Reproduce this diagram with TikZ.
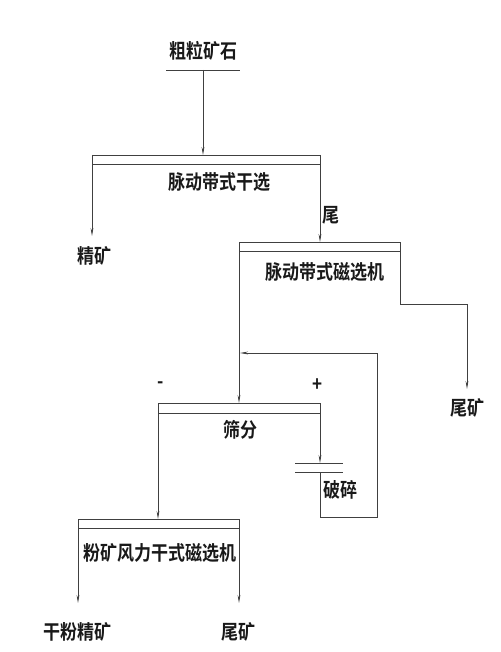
\documentclass[tikz,border=0pt]{standalone}
\usepackage{fontspec}
\newfontfamily\cjk[FakeStretch=0.85]{Noto Sans CJK SC Bold}
\usetikzlibrary{arrows.meta}
\tikzset{
  flow/.style={draw=black!75, line width=0.7pt},
  go/.style={flow, -{Stealth[length=8pt,width=2.8pt]}},
  lbl/.style={font=\cjk\fontsize{20}{20}\selectfont, inner sep=0pt, text=black!90}
}
\begin{document}
\begin{tikzpicture}[x=1pt,y=-1pt]
\useasboundingbox (0,0) rectangle (500,652);
% feed
\node[lbl] (feed) at (203,51) {粗粒矿石};
\coordinate (fa) at (166,70); \coordinate (fb) at (240,70); \coordinate (fo) at (203,70);
\draw[flow] (fa)--(fb);
% pulsating belt dry separation
\coordinate (s1l) at (92,155); \coordinate (s1r) at (320,155); \coordinate (s1in) at (203,155);
\draw[flow] (s1l) rectangle (320,164);
\node[lbl] (s1) at (219,182) {脉动带式干选};
\draw[go] (fo)--(s1in);
\coordinate (c1) at (92,236); \node[lbl] (conc1) at (94,256) {精矿};
\draw[go] (s1l)--(c1);
% magnetic separator
\coordinate (s2l) at (239,242); \coordinate (s2r) at (400,242); \coordinate (s2in) at (320,242);
\draw[flow] (s2l) rectangle (400,251);
\node[lbl] (s2) at (325,272) {脉动带式磁选机};
\node[lbl] (tail1) at (331,215) {尾};
\draw[go] (s1r)--(s2in);
\coordinate (t2) at (467,389); \node[lbl] (tail2) at (467,408) {尾矿};
\draw[go] (s2r)--(400,304)-|(t2);
% screening
\coordinate (s3l) at (158,403); \coordinate (s3r) at (320,403); \coordinate (s3in) at (239,403);
\draw[flow] (s3l) rectangle (320,413);
\node[lbl] (s3) at (240,430) {筛分};
\node[lbl] (minus) at (161,385) {-};
\node[lbl] (plus) at (318,385) {+};
\draw[go] (s2l)--(s3in);
% crushing
\coordinate (cr1) at (320,463); \coordinate (cr2) at (320,472);
\draw[flow] (295,463)--(343,463) (295,472)--(343,472);
\node[lbl] (cr) at (340,490) {破碎};
\draw[go] (s3r)--(cr1);
\coordinate (back) at (240,353);
\draw[flow] (cr2)--(320,517)-|(377,353);
\draw[go] (377,353)--(back);
% fine ore wind dry magnetic separator
\coordinate (s4l) at (78,519); \coordinate (s4r) at (239,519); \coordinate (s4in) at (158,519);
\draw[flow] (s4l) rectangle (239,528);
\node[lbl] (s4) at (160,553) {粉矿风力干式磁选机};
\draw[go] (s3l)--(s4in);
\coordinate (c4) at (78,603); \coordinate (t4) at (239,603);
\node[lbl] (conc4) at (77,632) {干粉精矿};
\node[lbl] (tail4) at (238,632) {尾矿};
\draw[go] (s4l)--(c4);
\draw[go] (s4r)--(t4);
\end{tikzpicture}
\end{document}
